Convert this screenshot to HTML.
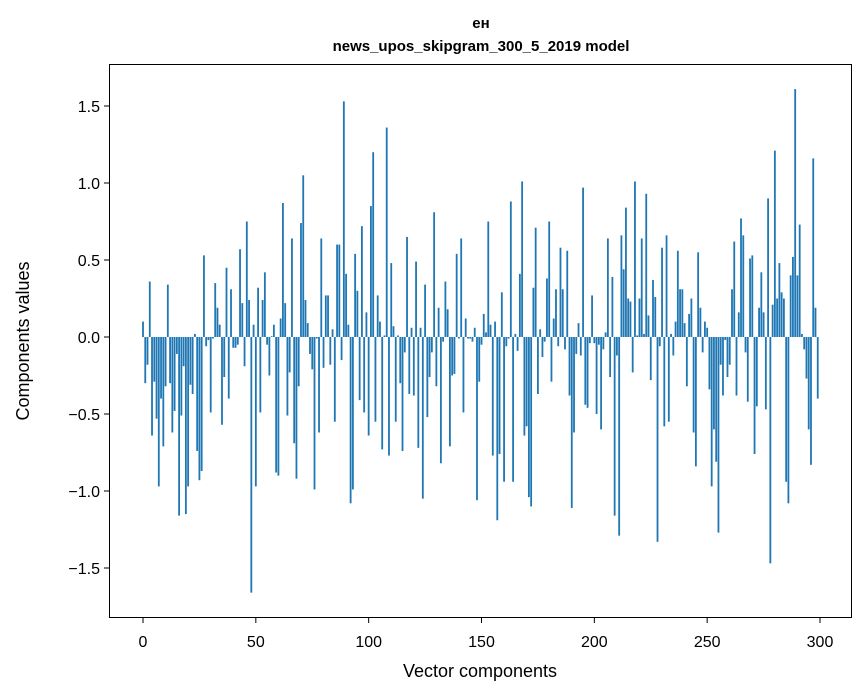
<!DOCTYPE html>
<html><head><meta charset="utf-8"><style>
body{margin:0;background:#fff;}
svg{display:block;font-family:"Liberation Sans","DejaVu Sans",sans-serif;}
</style></head><body>
<svg id="chart" width="867" height="696" viewBox="0 0 867 696" xmlns="http://www.w3.org/2000/svg">
<rect x="0" y="0" width="867" height="696" fill="#fff"/>
<text x="481" y="28" text-anchor="middle" font-size="15" font-weight="bold">ен</text>
<text x="481" y="51" text-anchor="middle" font-size="15" font-weight="bold">news_upos_skipgram_300_5_2019 model</text>
<g id="bars"></g>
<g id="axes"></g>
<rect x="109.5" y="64.5" width="742" height="553" fill="none" stroke="#000" stroke-width="1"/>
<text x="480" y="677" text-anchor="middle" font-size="18">Vector components</text>
<text transform="translate(29,341) rotate(-90)" text-anchor="middle" font-size="18">Components values</text>
</svg>
<script>
const values = [0.10,-0.30,-0.18,0.36,-0.64,-0.29,-0.53,-0.97,-0.40,-0.71,
-0.32,0.34,-0.30,-0.62,-0.48,-0.11,-1.16,-0.51,-0.19,-1.15,
-0.97,-0.31,-0.37,0.02,-0.74,-0.93,-0.87,0.53,-0.06,-0.02,
-0.49,-0.01,0.35,0.19,0.08,-0.57,-0.26,0.45,-0.40,0.31,
-0.07,-0.07,-0.05,0.57,0.22,-0.19,0.75,0.24,-1.66,0.08,
-0.97,0.32,-0.49,0.24,0.42,-0.05,-0.25,0.005,0.08,-0.88,
-0.90,0.12,0.87,0.22,-0.51,-0.23,0.64,-0.69,-0.92,-0.32,
0.74,1.05,0.24,0.09,-0.11,-0.21,-0.99,-0.01,-0.62,0.64,
-0.20,0.27,0.27,-0.18,0.05,-0.55,0.60,0.60,-0.15,1.53,
0.41,0.08,-1.08,-0.99,0.54,0.30,-0.41,0.72,-0.49,0.16,
-0.64,0.85,1.20,-0.55,0.27,0.10,-0.73,0.01,1.36,-0.77,
0.48,0.07,-0.55,0.01,-0.30,-0.74,-0.10,0.65,-0.37,0.06,
-0.38,0.49,-0.72,0.06,-1.05,0.34,-0.52,-0.26,-0.10,0.81,
-0.32,0.19,-0.82,-0.03,0.36,0.18,-0.71,-0.25,-0.24,0.54,
-0.01,0.64,-0.49,0.12,-0.01,-0.01,-0.03,0.06,-1.06,-0.29,
-0.05,0.15,0.03,0.75,0.08,-0.77,0.10,-1.19,-0.76,0.29,
-0.94,-0.06,-0.01,0.88,-0.94,0.02,-0.09,0.41,1.01,-0.64,
-0.58,-1.04,-1.10,0.32,0.71,-0.37,0.05,-0.13,-0.03,0.38,
0.75,-0.29,0.12,0.31,-0.06,0.58,0.31,-0.08,0.56,-0.38,
-1.11,-0.62,-0.11,0.09,-0.12,0.97,-0.44,-0.46,-0.04,0.27,
-0.04,-0.50,-0.05,-0.60,-0.08,0.03,0.64,-0.26,0.39,-1.16,
-0.12,-1.29,0.66,0.44,0.84,0.25,0.23,-0.23,1.01,0.01,
0.25,0.64,0.02,0.93,0.14,-0.28,0.37,0.26,-1.33,-0.06,
0.58,-0.58,0.66,-0.55,0.02,-0.12,0.10,0.56,0.31,0.31,
0.09,-0.32,0.15,0.25,-0.62,-0.84,0.55,0.19,-0.10,0.10,
0.06,-0.34,-0.97,-0.60,-0.81,-1.27,-0.18,-0.38,-0.02,-0.26,
-0.18,0.31,0.62,-0.38,0.16,0.77,0.66,-0.10,-0.42,0.51,
0.53,-0.76,-0.45,0.19,0.42,0.16,-0.47,0.90,-1.47,0.21,
1.21,0.25,0.48,0.29,0.25,-0.94,-1.08,0.40,0.52,1.61,
0.40,0.73,0.02,-0.08,-0.27,-0.60,-0.83,1.16,0.19,-0.40];
const xTicks = [0,50,100,150,200,250,300];
const yTicks = [-1.5,-1.0,-0.5,0.0,0.5,1.0,1.5];
const yTickLabels = ["\u22121.5","\u22121.0","\u22120.5","0.0","0.5","1.0","1.5"];

const NS="http://www.w3.org/2000/svg";
function xs(i){return 143 + i*677/300;}
function ys(v){return 337 - v*154;}
const bars=document.getElementById('bars');
const bw=0.8*677/300;
values.forEach((v,i)=>{
  const r=document.createElementNS(NS,'rect');
  
  
  const y0=ys(0), y1=ys(v);
  r.setAttribute('x',(xs(i)-bw/2).toFixed(2));
  r.setAttribute('y',Math.min(y0,y1).toFixed(2));
  r.setAttribute('width',bw.toFixed(2));
  r.setAttribute('height',Math.max(Math.abs(y1-y0),0.3).toFixed(2));
  r.setAttribute('fill','#1f77b4');
  bars.appendChild(r);
});
const axes=document.getElementById('axes');
xTicks.forEach(t=>{
  const l=document.createElementNS(NS,'line');
  
  
  l.setAttribute('x1',xs(t));l.setAttribute('x2',xs(t));
  l.setAttribute('y1',618);l.setAttribute('y2',623);
  l.setAttribute('stroke','#000');
  axes.appendChild(l);
  const tx=document.createElementNS(NS,'text');
  
  
  tx.setAttribute('x',xs(t));tx.setAttribute('y',647);
  tx.setAttribute('text-anchor','middle');tx.setAttribute('font-size','16');
  tx.textContent=t;
  axes.appendChild(tx);
});
yTicks.forEach((t,k)=>{
  const l=document.createElementNS(NS,'line');
  
  
  l.setAttribute('x1',104);l.setAttribute('x2',110);
  l.setAttribute('y1',ys(t));l.setAttribute('y2',ys(t));
  l.setAttribute('stroke','#000');
  axes.appendChild(l);
  const tx=document.createElementNS(NS,'text');
  
  
  tx.setAttribute('x',100);tx.setAttribute('y',ys(t)+6);
  tx.setAttribute('text-anchor','end');tx.setAttribute('font-size','16');
  tx.textContent=yTickLabels[k];
  axes.appendChild(tx);
});
</script>
</body></html>
